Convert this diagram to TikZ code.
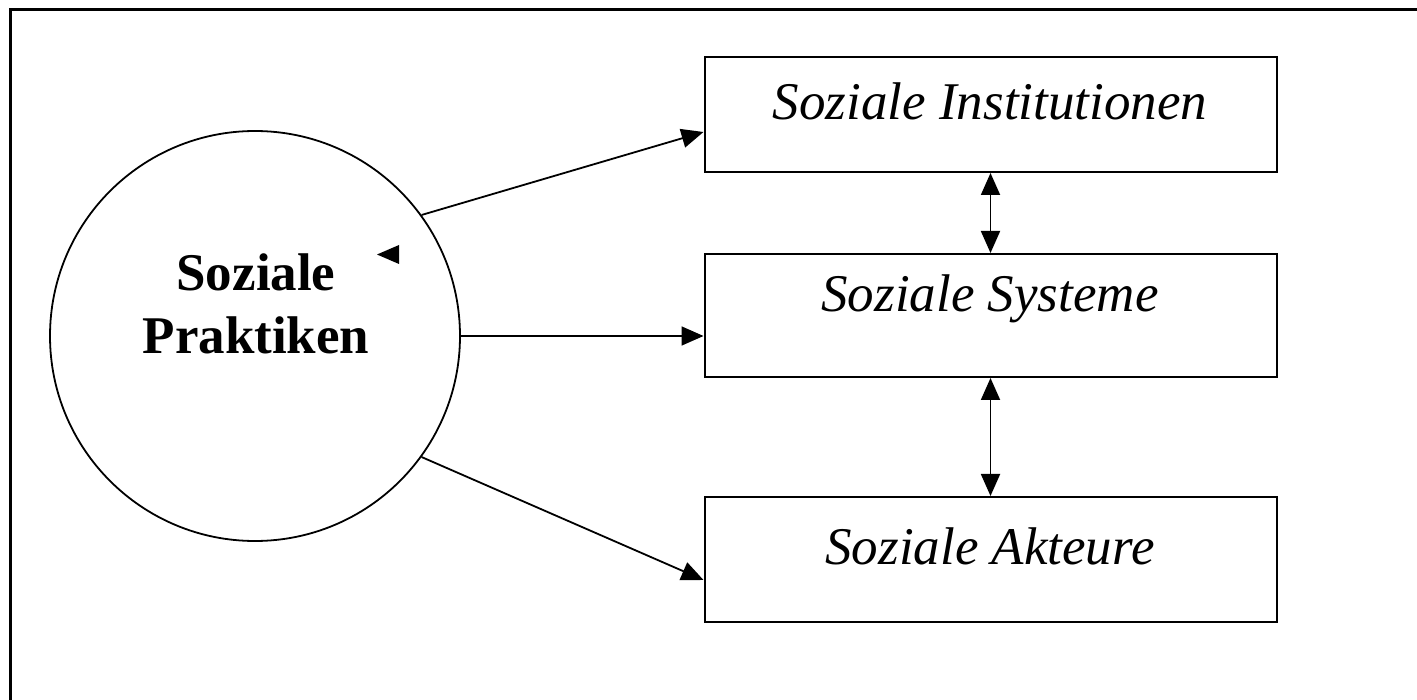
\documentclass[tikz,border=0pt]{standalone}
\usepackage{fontspec}
\setmainfont{Liberation Serif}
\usetikzlibrary{arrows.meta}
\begin{document}
\begin{tikzpicture}[x=1pt,y=-1pt,
  box/.style={draw,line width=2pt,minimum width=572pt,inner sep=0pt},
  lbl/.style={font=\fontsize{53}{60}\selectfont\itshape,inner sep=0pt},
  arr/.style={line width=1.8pt,-{Triangle[length=22pt,width=19pt]}},
  darr/.style={line width=1.8pt,{Triangle[length=22pt,width=19pt]}-{Triangle[length=22pt,width=19pt]}}]
\useasboundingbox (0,0) rectangle (1417,700);
\draw[line width=3pt] (10,720) -- (10,9.5) -- (1430,9.5);
% circle
\node[draw,circle,line width=1.8pt,minimum size=410pt,inner sep=0pt] (circ) at (255,336) {};
\node[font=\fontsize{53}{63}\selectfont\bfseries,align=center,inner sep=0pt] (ctext) at (256,304) {Soziale\\Praktiken};
% boxes
\node[box,minimum height=115pt] (inst) at (990.5,114.5) {};
\node[lbl] (instl) at (990,101) {Soziale Institutionen};
\node[box,minimum height=123pt] (sys) at (990.5,315.5) {};
\node[lbl] (sysl) at (990,299) {Soziale Systeme};
\node[box,minimum height=125pt] (akt) at (990.5,559.5) {};
\node[lbl] (aktl) at (990,546) {Soziale Akteure};
% arrows
\draw[arr] (circ.36.9) -- ([yshift=-17.5pt]inst.west);
\draw[arr] (circ.east) -- (sys.west|-circ.east);
\draw[arr] (circ.-36.9) -- ([yshift=-20.5pt]akt.west);
\draw[darr] (inst.south) -- (inst.south|-sys.north);
\draw[darr] (sys.south) -- (sys.south|-akt.north);
% stray arrowhead
\fill (377,254.5) -- (399,245) -- (399,264) -- cycle;
\end{tikzpicture}
\end{document}
